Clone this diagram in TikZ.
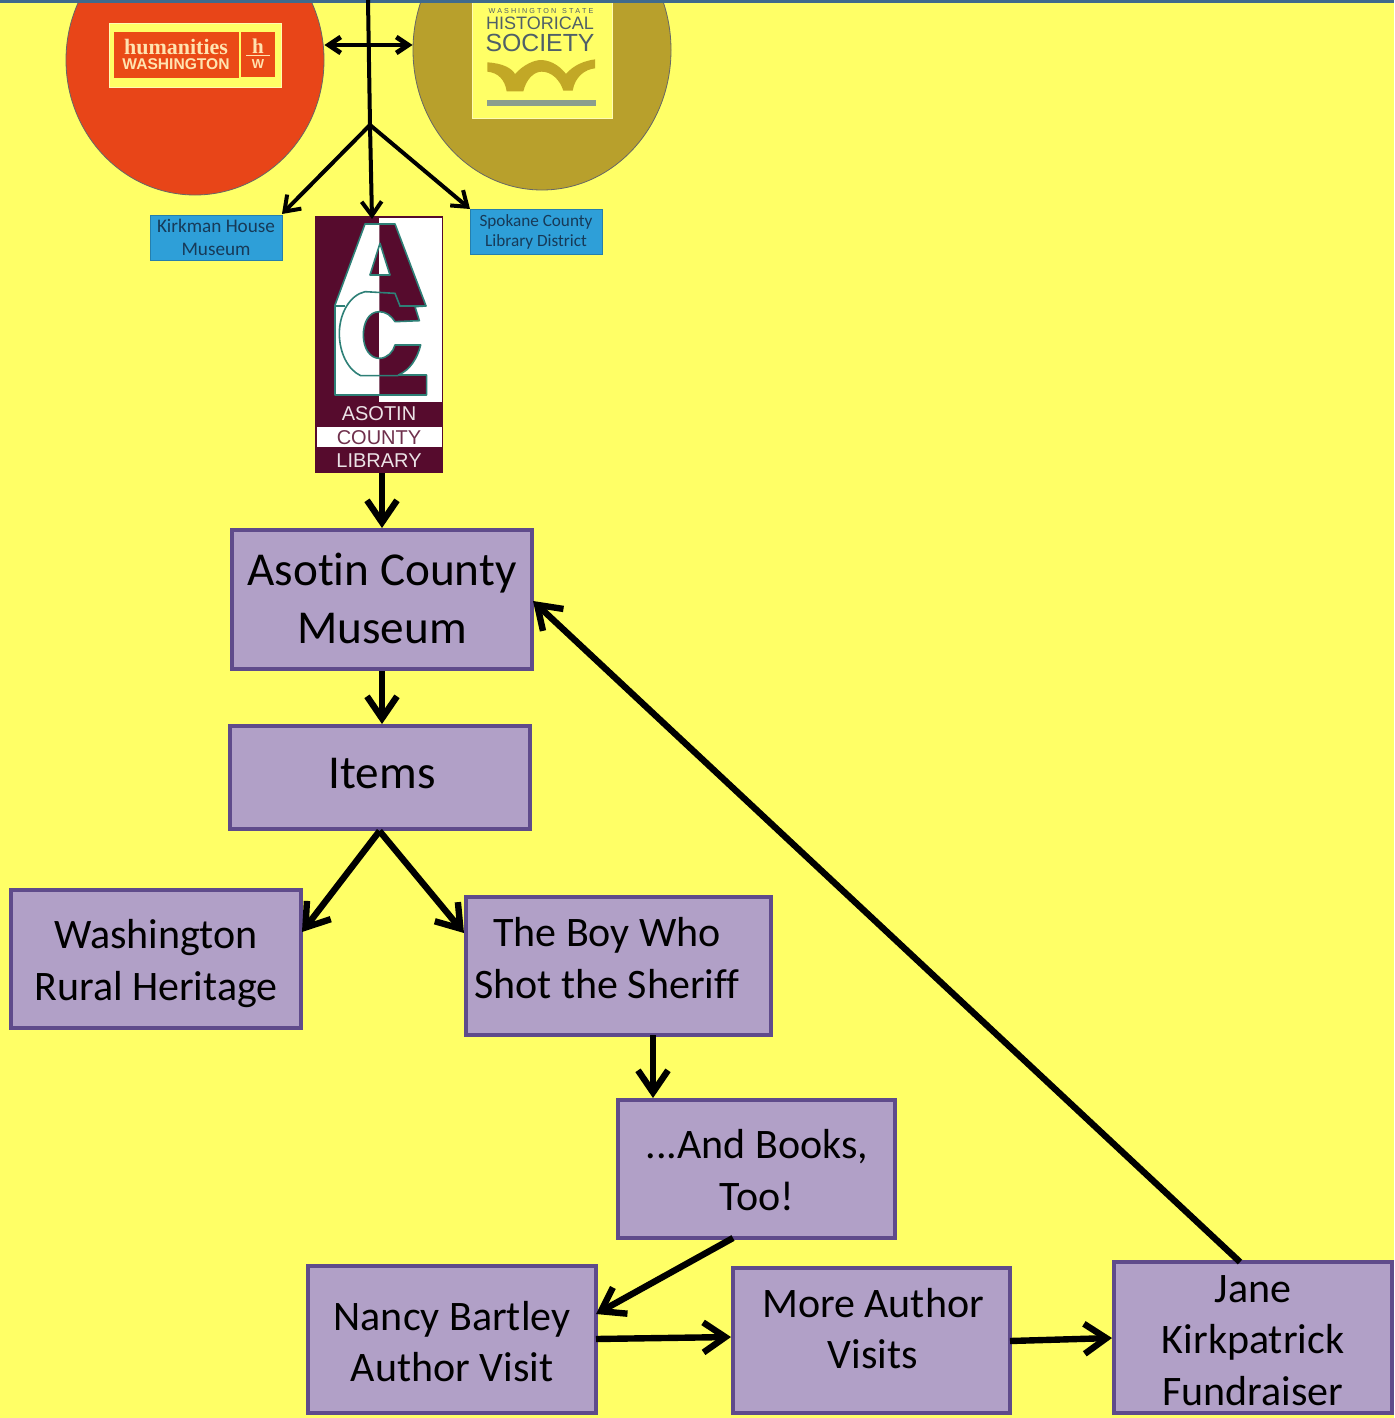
\documentclass[tikz,border=0pt]{standalone}
\usepackage{fontspec}
\setmainfont[Ligatures=NoCommon]{Carlito}
\newfontfamily\lsans{Liberation Sans}
\newfontfamily\lserif{Liberation Serif}
\usetikzlibrary{arrows.meta,shapes.geometric}
\definecolor{bgyellow}{HTML}{FFFF66}
\definecolor{boxfill}{HTML}{B1A0C7}
\definecolor{boxline}{HTML}{5F4B8B}
\definecolor{topline}{HTML}{3F6A8C}
\definecolor{redorg}{HTML}{E84518}
\definecolor{olive}{HTML}{B8A02C}
\definecolor{cream}{HTML}{FFE3B0}
\definecolor{maroon}{HTML}{560B2D}
\definecolor{teal2}{HTML}{2E8077}
\definecolor{skyb}{HTML}{2E9FD8}
\definecolor{navyt}{HTML}{173A58}
\definecolor{histgrey}{HTML}{4F5F68}
\definecolor{histrule}{HTML}{8A9E8E}
\definecolor{histgold}{HTML}{C2A826}
\tikzset{
  x=0.5pt,y=-0.5pt,
  pbox/.style={draw=boxline,line width=2pt,fill=boxfill,inner sep=0pt},
  ptext/.style={inner sep=0pt,align=center,text=black},
  big/.style={font=\fontsize{23.6}{29}\selectfont},
  med/.style={font=\fontsize{21}{25.6}\selectfont},
  bluebox/.style={fill=skyb,draw=skyb!80!black,line width=0.5pt,inner sep=0pt,align=center,text=navyt,minimum width=66pt,minimum height=22.5pt},
  heavy/.style={line width=3.2pt,-{Straight Barb[length=11pt,width=15pt,line width=3.2pt]},draw=black},
  thin arrow/.style={line width=2pt,-{Straight Barb[length=7pt,width=10pt,line width=2pt]},draw=black},
  twoway/.style={line width=2.4pt,{Straight Barb[length=6pt,width=8pt,line width=2.4pt]}-{Straight Barb[length=6pt,width=8pt,line width=2.4pt]},draw=black},
  disc/.style={ellipse,draw=black!60,line width=0.4pt,inner sep=0pt},
}
\begin{document}
\begin{tikzpicture}
\useasboundingbox (0,0) rectangle (1394,1418);
\fill[bgyellow] (0,0) rectangle (1394,1418);

% discs
\node[disc,fill=redorg,minimum width=129pt,minimum height=135pt] (hum) at (195,60) {};
\node[disc,fill=olive,minimum width=129pt,minimum height=140pt] (wshs) at (542,50) {};

% humanities logo
\node[fill=bgyellow,draw=white!70!yellow,line width=0.5pt,minimum width=86pt,minimum height=32pt,inner sep=0pt] (humlogo) at (195,56) {};
\fill[redorg!92!orange] (114,32) rectangle (239,78);
\fill[redorg!92!orange] (241,32) rectangle (275,77);
\node[text=cream,font=\lserif\bfseries\fontsize{11}{11}\selectfont,inner sep=0pt] (humt) at (176,47) {humanities};
\node[text=cream,font=\lsans\bfseries\fontsize{7.8}{8}\selectfont,inner sep=0pt] (wast) at (176,64) {WASHINGTON};
\node[text=cream,font=\lserif\bfseries\fontsize{10.5}{11}\selectfont,inner sep=0pt] (ht) at (258,46) {h};
\draw[cream,line width=0.5pt] (246,56) -- (270,56);
\node[text=cream,font=\lsans\bfseries\fontsize{6.5}{7}\selectfont,inner sep=0pt] (wt) at (258,64.5) {W};

% historical society logo
\node[fill=bgyellow,draw=white!70!yellow,line width=0.5pt,minimum width=70pt,minimum height=60pt,inner sep=0pt] (histlogo) at (542,59) {};
\node[text=histgrey,font=\lsans\fontsize{3.6}{4}\selectfont,inner sep=0pt] (h0) at (541,11) {W A S H I N G T O N \ \ S T A T E};
\node[text=histgrey,font=\lsans\fontsize{9}{9}\selectfont,inner sep=0pt] (h1) at (540,23) {HISTORICAL};
\node[text=histgrey,font=\lsans\fontsize{12.4}{13}\selectfont,inner sep=0pt] (h2) at (540,43) {SOCIETY};
\begin{scope}[shift={(470,0)},x=0.16667pt,y=-0.16667pt]
\fill[histgold] (52,187) .. controls (100,190) and (125,205) .. (135,222)
  .. controls (160,195) and (190,180) .. (215,180)
  .. controls (250,182) and (275,205) .. (288,222)
  .. controls (310,195) and (345,182) .. (375,178) -- (375,205)
  .. controls (345,208) and (315,230) .. (308,272) -- (280,272)
  .. controls (270,240) and (245,215) .. (215,215)
  .. controls (190,215) and (168,240) .. (160,274) -- (110,274)
  .. controls (105,240) and (85,218) .. (52,215) -- cycle;
\fill[histrule] (52,300) rectangle (378,318);
\end{scope}

% top edge
\fill[topline] (0,0) rectangle (1394,3);

% connectors at top
\coordinate (topc) at (368,0);
\coordinate (fork) at (370,125);
\draw[black,line width=2pt] (topc) -- (fork);
\draw[twoway] (hum.east |- 0,45) -- (wshs.west |- 0,45);

% blue boxes
\node[bluebox,font=\fontsize{9.6}{11.4}\selectfont] (kirk) at (216,237.5) {Kirkman House\\Museum};
\node[bluebox,font=\fontsize{8.6}{10}\selectfont] (spok) at (536,231.5) {Spokane County\\Library District};

% logo of the library
\node[fill=maroon,draw=none,minimum width=64pt,minimum height=128.5pt,inner sep=0pt] (lib) at (379,344.5) {};
\begin{scope}[shift={(300,210)},x=0.16667pt,y=-0.16667pt]
  \fill[white] (238,24) rectangle (426,575);
  \def\acpath{(105,555) -- (105,285) -- (195,42) -- (285,42) -- (378,288) -- (345,290) -- (358,332) -- (285,335) .. controls (275,318) and (258,305) .. (238,305) .. controls (205,305) and (190,340) .. (190,375) .. controls (190,415) and (210,445) .. (238,445) .. controls (262,445) and (280,425) .. (285,405) -- (362,405) .. controls (352,445) and (330,480) .. (295,495) -- (380,495) -- (380,555) -- cycle (240,100) -- (210,195) -- (270,195) -- cycle}
  \begin{scope}
    \clip (100,20) rectangle (238,560);
    \fill[white,even odd rule] \acpath;
  \end{scope}
  \begin{scope}
    \clip (238,20) rectangle (430,560);
    \fill[maroon,even odd rule] \acpath;
  \end{scope}
  \draw[teal2,line width=0.8pt,line join=round] \acpath;
  \draw[teal2,line width=0.8pt] (105,288) -- (135,288);
  \draw[teal2,line width=0.8pt] (378,288) -- (300,288) -- (285,250) -- (195,245) .. controls (150,255) and (118,310) .. (118,370) .. controls (118,430) and (145,480) .. (182,497) -- (295,497);
  \fill[white] (50,650) rectangle (426,712);
\end{scope}
\node[text=white!88!maroon,font=\lsans\fontsize{10}{11}\selectfont,inner sep=0pt] (l1) at (379,414) {ASOTIN};
\node[text=maroon!85!white,font=\lsans\fontsize{10}{11}\selectfont,inner sep=0pt] (l2) at (379,438) {COUNTY};
\node[text=white!88!maroon,font=\lsans\fontsize{10}{11}\selectfont,inner sep=0pt] (l3) at (379,461) {LIBRARY};

% fork arrows
\coordinate (kirkin) at (282,214);
\coordinate (spokin) at (470,209);
\coordinate (libin) at (372,219);
\draw[thin arrow] (fork) -- (kirkin);
\draw[thin arrow] (fork) -- (spokin);
\draw[thin arrow] (fork) -- (libin);

% purple boxes
\node[pbox,minimum width=150pt,minimum height=69.5pt] (asotin) at (382,599.5) {};
\node[pbox,minimum width=150pt,minimum height=51.5pt] (items) at (379.5,777.5) {};
\node[pbox,minimum width=145pt,minimum height=69pt] (wrh) at (156,959) {};
\node[pbox,minimum width=152.5pt,minimum height=69pt] (boy) at (618.5,966) {};
\node[pbox,minimum width=138.5pt,minimum height=69pt] (books) at (756.5,1169) {};
\node[pbox,minimum width=144pt,minimum height=73.5pt] (nancy) at (452,1339.5) {};
\node[pbox,minimum width=138.5pt,minimum height=72.5pt] (more) at (871.5,1340.5) {};
\node[pbox,minimum width=139pt,minimum height=75.5pt] (jane) at (1253,1337.5) {};

\node[ptext,big] (asotint) at (382,598.5) {Asotin County\\Museum};
\node[ptext,big] (itemst) at (382,773.5) {Items};
\node[ptext,med] (wrht) at (156,963.5) {Washington\\Rural Heritage};
\node[ptext,med] (boyt) at (607,958) {The Boy Who\\Shot the Sheriff};
\node[ptext,med] (bookst) at (757,1170) {...And Books,\\Too!};
\node[ptext,med] (nancyt) at (452,1341.5) {Nancy Bartley\\Author Visit};
\node[ptext,med] (moret) at (873,1328.5) {More Author\\Visits};
\node[ptext,med] (janet) at (1253,1340.5) {Jane\\Kirkpatrick\\Fundraiser};

% connectors
\coordinate (wrhin) at (302,932);
\coordinate (boyin) at (464,933);
\coordinate (boyout) at (653,1035);
\coordinate (booksin) at (653,1098);
\coordinate (booksout) at (733,1238);
\coordinate (nancyin) at (596,1314);
\coordinate (nancyout) at (596,1339);
\coordinate (morein) at (731,1337);
\coordinate (moreout) at (1010,1341);
\coordinate (janein) at (1112,1338);
\coordinate (janeout) at (1240,1262);
\coordinate (asotinin) at (533,601);
\draw[heavy] (lib.south -| asotin.north) -- (asotin.north);
\draw[heavy] (asotin.south) -- (asotin.south |- items.north);
\draw[heavy] (items.south) -- (wrhin);
\draw[heavy] (items.south) -- (boyin);
\draw[heavy] (boyout) -- (booksin);
\draw[heavy] (booksout) -- (nancyin);
\draw[heavy] (nancyout) -- (morein);
\draw[heavy] (moreout) -- (janein);
\draw[heavy] (janeout) -- (asotinin);
\end{tikzpicture}
\end{document}
